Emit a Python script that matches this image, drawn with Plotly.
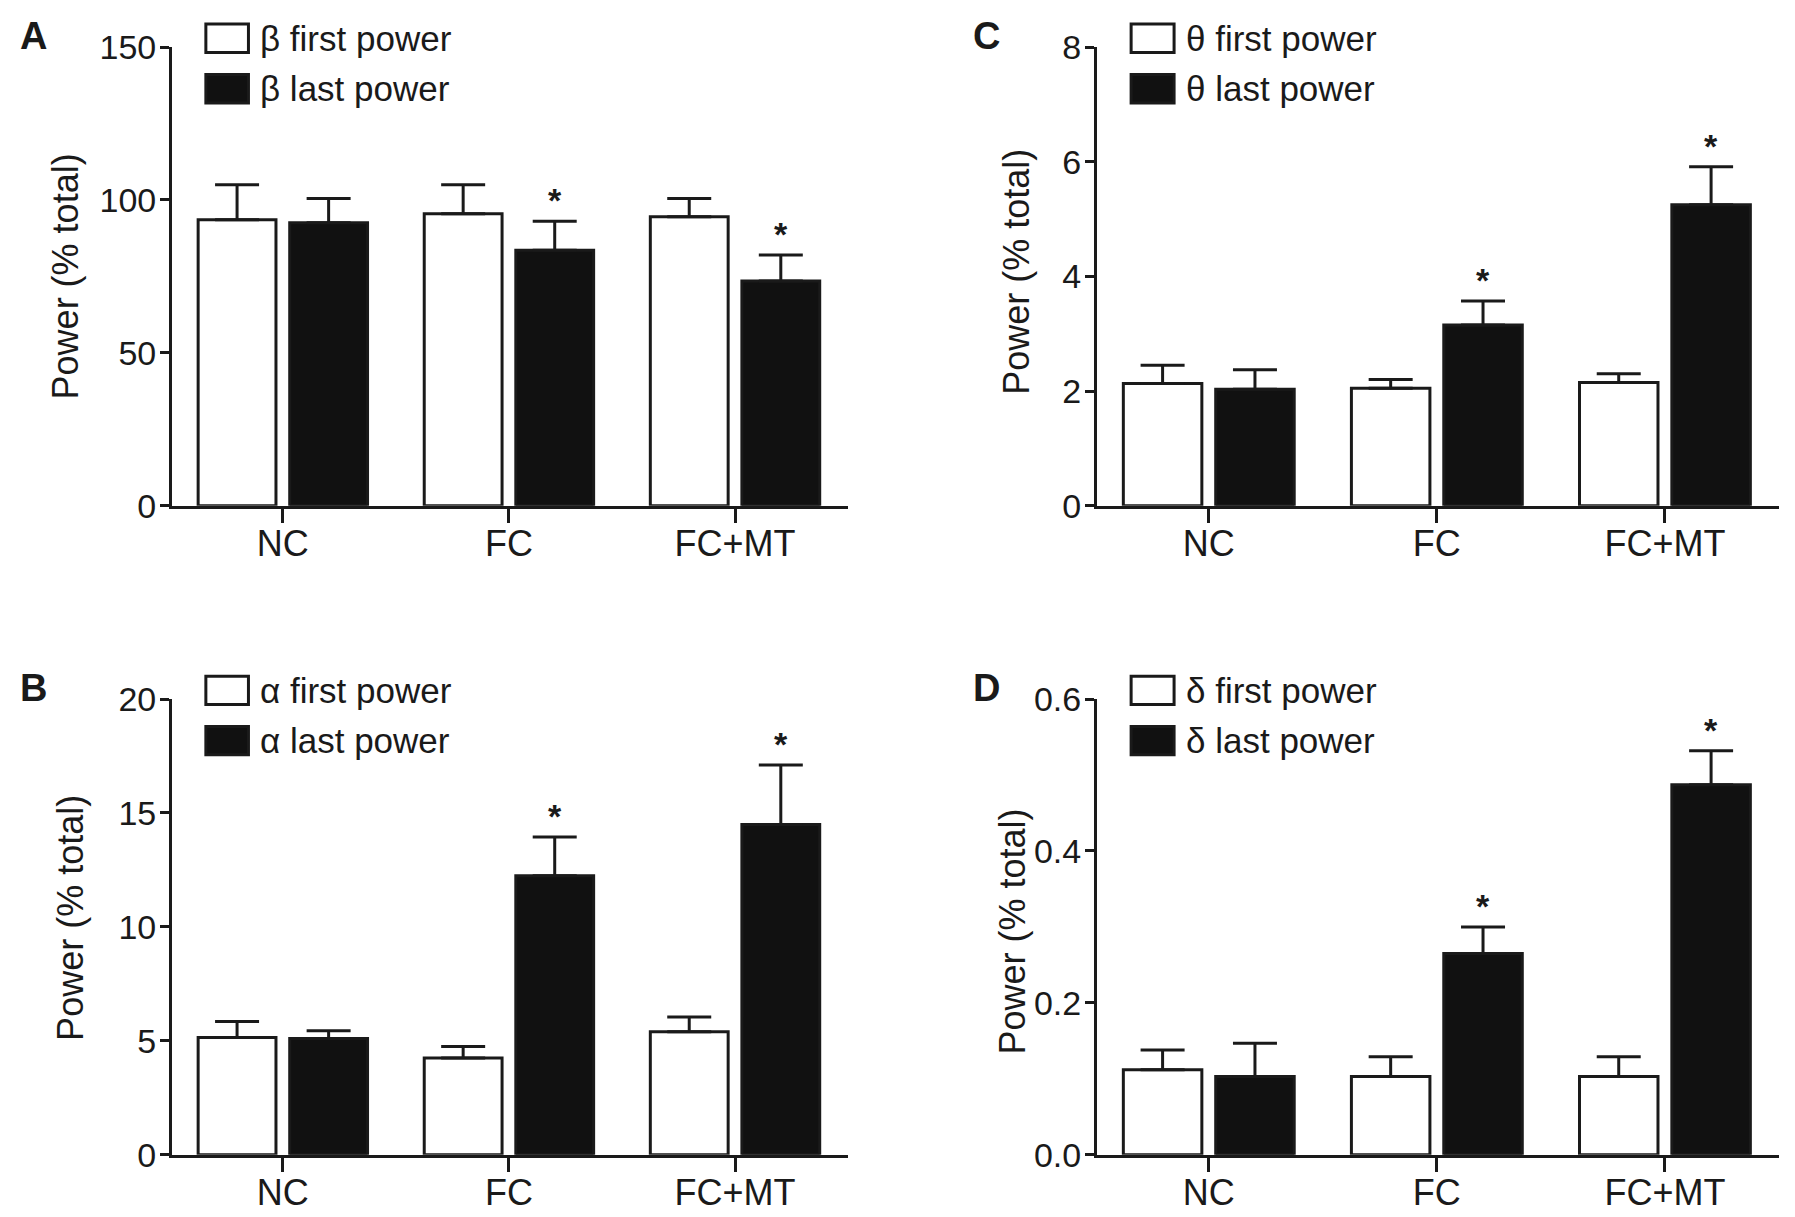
import plotly.graph_objects as go

W, H = 1795, 1217

groups = ['NC', 'FC', 'FC+MT']

beta_first = [93.5, 95.5, 94.5]
beta_first_err = [11.5, 9.5, 6.0]
beta_last = [92.5, 83.5, 73.5]
beta_last_err = [8.0, 9.5, 8.5]

theta_first = [2.13, 2.05, 2.15]
theta_first_err = [0.32, 0.15, 0.15]
theta_last = [2.03, 3.15, 5.25]
theta_last_err = [0.34, 0.42, 0.66]

alpha_first = [5.15, 4.25, 5.4]
alpha_first_err = [0.7, 0.5, 0.65]
alpha_last = [5.1, 12.25, 14.5]
alpha_last_err = [0.35, 1.7, 2.6]

delta_first = [0.112, 0.103, 0.103]
delta_first_err = [0.026, 0.026, 0.026]
delta_last = [0.103, 0.265, 0.487]
delta_last_err = [0.044, 0.035, 0.045]

# which "last power" bars carry a significance star
beta_star = [False, True, True]
theta_star = [False, True, True]
alpha_star = [False, True, True]
delta_star = [False, True, True]

FONT = 'Liberation Sans, Arial, sans-serif'
INK = '#1a1a1a'

fig = go.Figure()

panels = [
    # letter, axis suffix, greek, first, err, last, err, stars, yrange, dtick, fmt,
    # xdomain, ydomain, letter x, y-title shift, y-title y
    ('A', '', 'β', beta_first, beta_first_err, beta_last, beta_last_err, beta_star,
     [0, 150], 50, None, [0.0914, 0.468], [0.594, 0.983], -0.205, -107, 0.5),
    ('C', '2', 'θ', theta_first, theta_first_err, theta_last, theta_last_err, theta_star,
     [0, 8], 2, None, [0.6067, 0.9866], [0.594, 0.983], -0.162, -80, 0.51),
    ('B', '3', 'α', alpha_first, alpha_first_err, alpha_last, alpha_last_err, alpha_star,
     [0, 20], 5, None, [0.0914, 0.468], [0.0434, 0.43], -0.205, -101, 0.52),
    ('D', '4', 'δ', delta_first, delta_first_err, delta_last, delta_last_err, delta_star,
     [0, 0.6], 0.2, '.1f', [0.6067, 0.9866], [0.0434, 0.43], -0.162, -85, 0.49),
]

shapes = []
annotations = []

for letter, sfx, greek, first, first_err, last, last_err, stars, yr, dt, fmt, xd, yd, lx, tshift, ty in panels:
    xa = 'x' + sfx
    ya = 'y' + sfx
    fig.add_trace(go.Bar(
        x=groups, y=first, name=greek + ' first power',
        marker=dict(color='white', line=dict(color=INK, width=3)),
        error_y=dict(type='data', array=first_err, arrayminus=[0] * 3, symmetric=False,
                     color=INK, thickness=3, width=22),
        xaxis=xa, yaxis=ya, showlegend=False,
    ))
    fig.add_trace(go.Bar(
        x=groups, y=last, name=greek + ' last power',
        marker=dict(color='#111111', line=dict(color=INK, width=3)),
        error_y=dict(type='data', array=last_err, arrayminus=[0] * 3, symmetric=False,
                     color=INK, thickness=3, width=22),
        xaxis=xa, yaxis=ya, showlegend=False,
    ))

    fig.update_layout({
        'xaxis' + sfx: dict(
            domain=xd, anchor=ya, range=[-0.49, 2.5],
            showline=True, linecolor=INK, linewidth=3,
            ticks='outside', ticklen=14, tickwidth=3, tickcolor=INK,
            ticklabelstandoff=-10,
            showgrid=False, zeroline=False,
            tickfont=dict(family=FONT, size=36, color=INK),
        ),
        'yaxis' + sfx: dict(
            domain=yd, anchor=xa, range=yr, dtick=dt, tickformat=fmt,
            showline=True, linecolor=INK, linewidth=3,
            ticks='outside', ticklen=9, tickwidth=3, tickcolor=INK,
            ticklabelstandoff=-3,
            showgrid=False, zeroline=False,
            tickfont=dict(family=FONT, size=34, color=INK),
        ),
    })

    # y axis title
    annotations.append(dict(
        x=0, y=ty, xref=xa + ' domain', yref=ya + ' domain', xshift=tshift,
        text='Power (% total)', textangle=-90, showarrow=False,
        xanchor='center', yanchor='middle',
        font=dict(family=FONT, size=36, color=INK),
    ))

    # significance stars above the error bars of the "last" series
    for g, v, e, s in zip(groups, last, last_err, stars):
        if s:
            annotations.append(dict(
                x=g, y=v + e, xref=xa, yref=ya, xshift=46, yshift=0,
                text='<b>*</b>', showarrow=False, yanchor='bottom',
                font=dict(family=FONT, size=34, color=INK),
            ))

    # panel letter
    annotations.append(dict(
        x=lx, y=1.025, xref=xa + ' domain', yref=ya + ' domain',
        text='<b>' + letter + '</b>', showarrow=False,
        xanchor='center', yanchor='middle',
        font=dict(family=FONT, size=38, color=INK),
    ))

    # key boxes and labels
    keys = [(greek + ' first power', 'white', 1.05, 0.988),
            (greek + ' last power', '#111111', 0.94, 0.878)]
    for label, fill, y_top, y_bot in keys:
        shapes.append(dict(type='rect', xref=xa + ' domain', yref=ya + ' domain',
                           x0=0.05, x1=0.113, y0=y_bot, y1=y_top,
                           fillcolor=fill, line=dict(color=INK, width=3)))
        annotations.append(dict(
            x=0.127, y=(y_top + y_bot) / 2, xref=xa + ' domain', yref=ya + ' domain',
            text=label, showarrow=False, xanchor='left', yanchor='middle',
            font=dict(family=FONT, size=35, color=INK),
        ))

fig.update_layout(
    width=W, height=H,
    margin=dict(l=0, r=0, t=0, b=0),
    barmode='group', bargap=0.19, bargroupgap=0.15,
    plot_bgcolor='white', paper_bgcolor='white',
    shapes=shapes, annotations=annotations,
    showlegend=False,
)

fig.write_html("out.html")
